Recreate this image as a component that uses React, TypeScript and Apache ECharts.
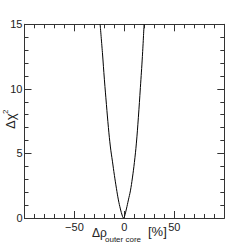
import React, { useEffect, useRef } from "react";
import * as echarts from "echarts";

const deltaRho = [-24.3, -22, -20, -18, -16, -14, -12, -10, -8, -6, -4, -2, -1, 0, 2, 4, 6, 8, 10, 12, 14, 16, 18, 19.7];
const deltaChi2 = [15, 12.8, 10.7, 8.8, 7.0, 5.5, 4.4, 3.3, 2.3, 1.4, 0.7, 0.15, 0, 0.1, 0.7, 1.4, 2.1, 3.1, 4.3, 5.8, 7.8, 10.1, 12.5, 15];
const xTicks = [-50, 0, 50];
const yTicks = [0, 5, 10, 15];

const FONT = "Liberation Sans";
const AXIS_COLOR = "#333";
const TEXT_COLOR = "#222";

export default function App() {
  const ref = useRef<HTMLDivElement>(null);
  useEffect(() => {
    if (!ref.current) return;
    const chart = echarts.init(ref.current, null, { renderer: "svg" });
    const data = deltaRho.map((x, i) => [x, deltaChi2[i]]);
    const fmtX = (v: number) => (xTicks.includes(v) ? String(v).replace("-", "\u2212") : "");
    const fmtY = (v: number) => (yTicks.includes(v) ? String(v) : "");
    const tickCommon = {
      axisLine: { show: true, onZero: false, lineStyle: { color: AXIS_COLOR, width: 1 } },
      axisTick: { show: true, inside: true, length: 7, lineStyle: { color: AXIS_COLOR } },
      minorTick: { show: true, splitNumber: 5, length: 4, lineStyle: { color: AXIS_COLOR } },
      splitLine: { show: false },
    };
    chart.setOption({
      animation: false,
      grid: { left: 24.5, right: 24.7, top: 24.3, bottom: 25, containLabel: false },
      xAxis: [
        {
          type: "value",
          min: -100,
          max: 100,
          interval: 50,
          position: "bottom",
          ...tickCommon,
          axisLabel: { formatter: fmtX, fontSize: 11, fontFamily: FONT, color: TEXT_COLOR, margin: 3 },
        },
        {
          type: "value",
          min: -100,
          max: 100,
          interval: 50,
          position: "top",
          ...tickCommon,
          axisLabel: { show: false },
        },
      ],
      yAxis: [
        {
          type: "value",
          min: 0,
          max: 15,
          interval: 5,
          position: "left",
          ...tickCommon,
          axisLabel: { formatter: fmtY, fontSize: 11, fontFamily: FONT, color: TEXT_COLOR, margin: 2 },
        },
        {
          type: "value",
          min: 0,
          max: 15,
          interval: 5,
          position: "right",
          ...tickCommon,
          axisLabel: { show: false },
        },
      ],
      series: [
        {
          type: "line",
          data,
          smooth: 0.4,
          showSymbol: false,
          clip: true,
          lineStyle: { color: "#000", width: 1 },
        },
      ],
      graphic: [
        {
          type: "text",
          left: 92,
          top: 227,
          style: { text: "\u0394\u03C1", fontSize: 12, fontFamily: FONT, fill: TEXT_COLOR },
        },
        {
          type: "text",
          left: 105,
          top: 235,
          style: { text: "outer core", fontSize: 8, fontFamily: FONT, fill: TEXT_COLOR },
        },
        {
          type: "text",
          left: 148,
          top: 225,
          style: { text: "[%]", fontSize: 13, fontFamily: FONT, fill: TEXT_COLOR },
        },
        {
          type: "group",
          x: 10,
          y: 121,
          rotation: Math.PI / 2,
          children: [
            {
              type: "text",
              x: -8,
              y: 0,
              style: { text: "\u0394\u03C7", fontSize: 13, fontFamily: FONT, fill: TEXT_COLOR, verticalAlign: "middle", align: "left" },
            },
            {
              type: "text",
              x: 7,
              y: -5,
              style: { text: "2", fontSize: 8, fontFamily: FONT, fill: TEXT_COLOR, verticalAlign: "middle", align: "left" },
            },
          ],
        },
      ],
    });
    return () => chart.dispose();
  }, []);
  return (
    <div
      ref={ref}
      style={{ position: "absolute", left: 0, top: 0, width: 249, height: 243, background: "#fff" }}
    />
  );
}
